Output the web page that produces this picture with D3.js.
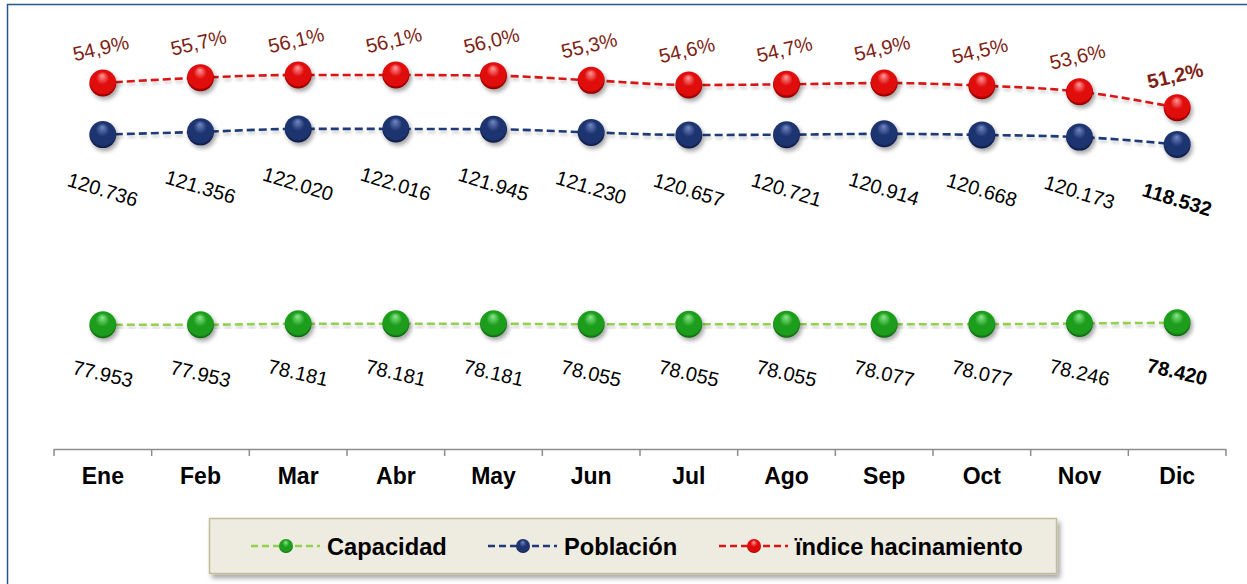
<!DOCTYPE html>
<html>
<head>
<meta charset="utf-8">
<script src="https://cdn.jsdelivr.net/npm/d3@7"></script>
<style>
body { margin: 0; background: #fff; }
svg { display: block; font-family: Arial, "Liberation Sans", sans-serif; }
.cat text { font-size: 23px; font-weight: bold; fill: #000; }
.lbl { font-size: 20px; }
.leg text { font-size: 23.7px; font-weight: bold; fill: #000; }
</style>
</head>
<body>
<script>
var months = ["Ene", "Feb", "Mar", "Abr", "May", "Jun", "Jul", "Ago", "Sep", "Oct", "Nov", "Dic"];
var capacidad = [77953, 77953, 78181, 78181, 78181, 78055, 78055, 78055, 78077, 78077, 78246, 78420];
var poblacion = [120736, 121356, 122020, 122016, 121945, 121230, 120657, 120721, 120914, 120668, 120173, 118532];
var indice = [54.9, 55.7, 56.1, 56.1, 56.0, 55.3, 54.6, 54.7, 54.9, 54.5, 53.6, 51.2];
var seriesNames = ["Capacidad", "Población", "ïndice hacinamiento"];

var W = 1247, H = 584;
var plot = { left: 54, right: 1226, top: 49, bottom: 449 };

var svg = d3.select("body").append("svg")
	.attr("width", W)
	.attr("height", H);

var defs = svg.append("defs");

var es = d3.formatLocale({ decimal: ",", thousands: ".", grouping: [3], currency: ["", ""] });
var fmtNum = es.format(",d");
var fmtPct = v => es.format(".1f")(v) + "%";

var x = d3.scaleBand().domain(months).range([plot.left, plot.right]);
var cx = d => x(d) + x.bandwidth() / 2;
var y = d3.scaleLinear().domain([50000, 140000]).range([plot.bottom, plot.top]);
var y2 = d3.scaleLinear().domain([0, 60]).range([plot.bottom, plot.top]);

// series config
var series = [
	{ name: seriesNames[0], values: capacidad, scale: y, line: "#92D050", main: "#1E9E1E", hi: "#8BE88B", edge: "#0A5A0A", id: "g" },
	{ name: seriesNames[1], values: poblacion, scale: y, line: "#1F3A78", main: "#1F3470", hi: "#7088C4", edge: "#0B1540", id: "b" },
	{ name: seriesNames[2], values: indice, scale: y2, line: "#D91515", main: "#E00808", hi: "#FF9A9A", edge: "#7A0000", id: "r" }
];

series.forEach(s => {
	var gr = defs.append("radialGradient")
		.attr("id", "grad-" + s.id)
		.attr("cx", "50%").attr("cy", "45%").attr("r", "55%")
		.attr("fx", "48%").attr("fy", "22%");
	gr.append("stop").attr("offset", "0%").attr("stop-color", s.hi);
	gr.append("stop").attr("offset", "45%").attr("stop-color", s.main);
	gr.append("stop").attr("offset", "85%").attr("stop-color", s.main);
	gr.append("stop").attr("offset", "100%").attr("stop-color", s.edge);
});

var sh = defs.append("filter").attr("id", "shadow")
	.attr("x", "-50%").attr("y", "-50%").attr("width", "200%").attr("height", "200%");
sh.append("feDropShadow").attr("dx", 2).attr("dy", 3).attr("stdDeviation", 2)
	.attr("flood-color", "#000").attr("flood-opacity", 0.35);

var shL = defs.append("filter").attr("id", "shadowLine")
	.attr("x", "-5%").attr("y", "-200%").attr("width", "110%").attr("height", "500%");
shL.append("feDropShadow").attr("dx", 1).attr("dy", 3).attr("stdDeviation", 1.5)
	.attr("flood-color", "#000").attr("flood-opacity", 0.18);

var shBox = defs.append("filter").attr("id", "shadowBox")
	.attr("x", "-5%").attr("y", "-20%").attr("width", "110%").attr("height", "150%");
shBox.append("feDropShadow").attr("dx", 3).attr("dy", 4).attr("stdDeviation", 2.5)
	.attr("flood-color", "#000").attr("flood-opacity", 0.35);

// chart border
svg.append("rect")
	.attr("x", 7.5).attr("y", 4.5)
	.attr("width", W + 20).attr("height", H + 20)
	.attr("fill", "none")
	.attr("stroke", "#2A5590")
	.attr("stroke-width", 1.5);

// category axis
var xAxis = d3.axisBottom(x).tickSize(0).tickPadding(19);
var ax = svg.append("g")
	.attr("class", "cat")
	.attr("transform", "translate(0," + plot.bottom + ")")
	.call(xAxis);
ax.select(".domain").remove();
ax.selectAll("text").attr("dy", "0.71em");

var edges = months.map(m => x(m)).concat([plot.right]);
svg.append("line")
	.attr("x1", plot.left).attr("x2", plot.right)
	.attr("y1", plot.bottom + 0.5).attr("y2", plot.bottom + 0.5)
	.attr("stroke", "#8C8C8C").attr("stroke-width", 1.5);
svg.append("g").selectAll("line")
	.data(edges)
	.enter().append("line")
	.attr("x1", d => d).attr("x2", d => d)
	.attr("y1", plot.bottom).attr("y2", plot.bottom + 7)
	.attr("stroke", "#8C8C8C").attr("stroke-width", 1.5);

// lines and markers
var lineGen = s => d3.line()
	.x((d, i) => cx(months[i]))
	.y(d => s.scale(d))
	.curve(d3.curveMonotoneX);

series.forEach(s => {
	svg.append("path")
		.attr("d", lineGen(s)(s.values))
		.attr("fill", "none")
		.attr("stroke", s.line)
		.attr("stroke-width", 2.6)
		.attr("stroke-dasharray", "8,4")
		.attr("filter", "url(#shadowLine)");
});

series.forEach(s => {
	svg.append("g").selectAll("circle")
		.data(s.values)
		.enter().append("circle")
		.attr("cx", (d, i) => cx(months[i]))
		.attr("cy", d => s.scale(d))
		.attr("r", 13.5)
		.attr("fill", "url(#grad-" + s.id + ")")
		.attr("filter", "url(#shadow)");
});

// data labels
var last = months.length - 1;
svg.append("g").selectAll("text")
	.data(indice)
	.enter().append("text")
	.attr("class", "lbl")
	.attr("text-anchor", "middle")
	.attr("dominant-baseline", "central")
	.attr("transform", (d, i) => "translate(" + [cx(months[i]) - 2, y2(d) - (i == last ? 32 : 35)] + ") rotate(-13)")
	.attr("fill", "#7E1E14")
	.attr("font-weight", (d, i) => i == last ? "bold" : "normal")
	.text(d => fmtPct(d));

svg.append("g").selectAll("text")
	.data(poblacion)
	.enter().append("text")
	.attr("class", "lbl")
	.attr("text-anchor", "middle")
	.attr("dominant-baseline", "central")
	.attr("transform", (d, i) => "translate(" + [cx(months[i]), y(d) + 55] + ") rotate(17)")
	.attr("fill", "#000")
	.attr("font-weight", (d, i) => i == last ? "bold" : "normal")
	.text(d => fmtNum(d));

svg.append("g").selectAll("text")
	.data(capacidad)
	.enter().append("text")
	.attr("class", "lbl")
	.attr("text-anchor", "middle")
	.attr("dominant-baseline", "central")
	.attr("transform", (d, i) => "translate(" + [cx(months[i]), y(d) + 49] + ") rotate(13)")
	.attr("fill", "#000")
	.attr("font-weight", (d, i) => i == last ? "bold" : "normal")
	.text(d => fmtNum(d));

// legend
var leg = svg.append("g").attr("class", "leg");
leg.append("rect")
	.attr("x", 209.5).attr("y", 518.5)
	.attr("width", 847).attr("height", 55)
	.attr("fill", "#EEEBE0")
	.attr("stroke", "#C4BC96")
	.attr("stroke-width", 1.5)
	.attr("filter", "url(#shadowBox)");

var legX = [251, 488, 719];
series.forEach((s, i) => {
	var g = leg.append("g").attr("transform", "translate(" + legX[i] + ",546)");
	g.append("line")
		.attr("x1", 0).attr("x2", 69)
		.attr("stroke", s.line)
		.attr("stroke-width", 2.4)
		.attr("stroke-dasharray", "7,4");
	g.append("circle")
		.attr("cx", 35).attr("r", 7)
		.attr("fill", "url(#grad-" + s.id + ")");
	g.append("text")
		.attr("x", 76)
		.attr("dy", "0.36em")
		.text(s.name);
});
</script>
</body>
</html>
